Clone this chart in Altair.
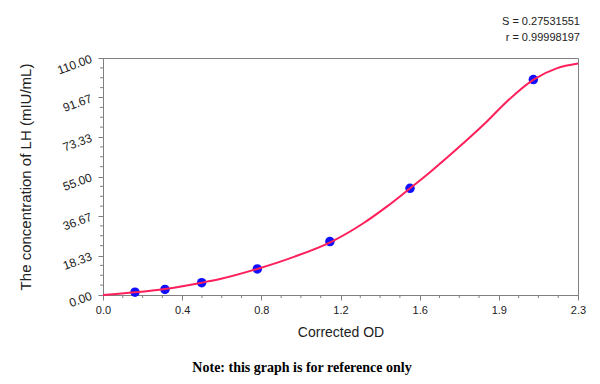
import altair as alt
import pandas as pd

# standards
std_od = [0.157, 0.304, 0.484, 0.757, 1.113, 1.506, 2.111]
std_conc = [1.3, 2.6, 5.7, 12.1, 24.8, 49.5, 100.0]

# fitted curve points
curve_od = [0.0, 0.157, 0.304, 0.484, 0.574, 0.757, 0.94, 1.122, 1.277, 1.392,
            1.506, 1.604, 1.767, 1.882, 1.980, 2.114, 2.225, 2.33]
curve_conc = [0.0, 1.25, 2.8, 5.7, 7.4, 12.1, 17.8, 24.8, 33.3, 41.0,
              49.5, 57.0, 70.4, 80.4, 89.7, 100.1, 105.2, 107.4]

x_max = 2.33
y_max = 110.0
x_major = [round(x_max / 6 * i, 4) for i in range(7)]
y_major = [round(y_max / 6 * i, 4) for i in range(7)]
x_minor = [x_max / 24 * i for i in range(25) if i % 4]
y_minor = [y_max / 24 * i for i in range(25) if i % 4]

stat_s = 'S = 0.27531551'
stat_r = 'r = 0.99998197'
note = 'Note: this graph is for reference only'

W, H = 475, 237
xs = alt.Scale(domain=[0, x_max], nice=False, zero=False)
ys = alt.Scale(domain=[0, y_max], nice=False, zero=False)

x_axis = alt.Axis(values=x_major, format='.1f', title='Corrected OD',
                  tickSize=5, labelPadding=4, labelFontSize=11,
                  titleFontSize=14, titleFontWeight='normal', titlePadding=10,
                  labelFlush=False, labelOverlap=False)
y_axis = alt.Axis(values=y_major, format='.2f', title='The concentration of LH (mIU/mL)',
                  tickSize=5, labelAngle=340, labelAlign='right', labelBaseline='middle',
                  labelPadding=7, labelFontSize=12, titleFontSize=15,
                  titleFontWeight='normal', titleX=-78, titleY=H / 2,
                  titleAngle=270, titleAlign='center', titleBaseline='middle',
                  labelFlush=False, labelOverlap=False, labelBound=False)

pts_df = pd.DataFrame({'od': std_od, 'conc': std_conc})
curve_df = pd.DataFrame({'od': curve_od, 'conc': curve_conc})

points = alt.Chart(pts_df).mark_circle(size=90, color='#1010ff', opacity=1).encode(
    x=alt.X('od:Q', scale=xs, axis=x_axis),
    y=alt.Y('conc:Q', scale=ys, axis=y_axis),
)

curve = alt.Chart(curve_df).mark_line(color='#ff1f5a', strokeWidth=2, interpolate='monotone').encode(
    x=alt.X('od:Q', scale=xs, axis=x_axis),
    y=alt.Y('conc:Q', scale=ys, axis=y_axis),
)

ymin_df = pd.DataFrame({'v': y_minor})
xmin_df = pd.DataFrame({'v': x_minor})
ymin_ticks = alt.Chart(ymin_df).mark_rule(color='#808080', strokeWidth=1).encode(
    y=alt.Y('v:Q', scale=ys, axis=y_axis), x=alt.value(-3), x2=alt.value(0))
xmin_ticks = alt.Chart(xmin_df).mark_rule(color='#808080', strokeWidth=1).encode(
    x=alt.X('v:Q', scale=xs, axis=x_axis), y=alt.value(H), y2=alt.value(H + 3))

def label(txt, x, y, **kw):
    return alt.Chart(pd.DataFrame({'t': [txt]})).mark_text(**kw).encode(
        text='t:N', x=alt.value(x), y=alt.value(y))

s_text = label(stat_s, 477, -36, align='right', baseline='middle', fontSize=11,
               font='Liberation Sans', color='#222')
r_text = label(stat_r, 477, -20, align='right', baseline='middle', fontSize=11,
               font='Liberation Sans', color='#222')
note_text = label(note, 199, 310, align='center', baseline='middle', fontSize=14,
                  fontWeight='bold', font='Liberation Serif', color='#000')

chart = alt.layer(points, curve, ymin_ticks, xmin_ticks, s_text, r_text, note_text).properties(
    width=W, height=H,
    autosize=alt.AutoSizeParams(type='none'),
    padding={'left': 95, 'top': 50, 'right': 14, 'bottom': 81},
).configure_view(stroke='#808080', strokeWidth=1).configure_axis(
    grid=False, domainColor='#808080', tickColor='#808080', labelColor='#222',
    titleColor='#222', labelFont='Liberation Sans', titleFont='Liberation Sans',
    labelOverlap=False
)

chart.save("out.html", embed_options={"renderer": "svg", "actions": False})
